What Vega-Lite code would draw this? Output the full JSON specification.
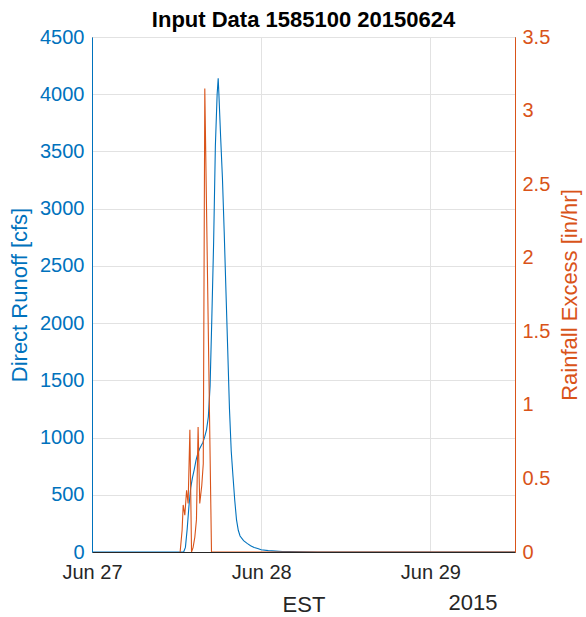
{
  "$schema": "https://vega.github.io/schema/vega-lite/v6.json",
  "width": 423,
  "height": 515,
  "autosize": {"type": "none"},
  "padding": {"left": 92, "top": 37, "right": 71, "bottom": 65},
  "background": "white",
  "title": {"text": "Input Data 1585100 20150624", "fontSize": 22, "font": "Liberation Sans", "fontWeight": "bold", "color": "#000000", "offset": -5, "anchor": "middle"},
  "config": {
    "view": {"stroke": "#262626", "strokeWidth": 1},
    "axis": {"labelFont": "Liberation Sans", "titleFont": "Liberation Sans", "labelFontSize": 20, "titleFontSize": 22, "titleFontWeight": "normal", "gridColor": "#e2e2e2", "gridWidth": 1, "ticks": false, "labelOverlap": false}
  },
  "datasets": {
    "runoff": [
      {"time": "2015-06-27T00:00:00", "runoff": 0},
      {"time": "2015-06-27T13:00:00", "runoff": 0},
      {"time": "2015-06-27T13:15:00", "runoff": 40},
      {"time": "2015-06-27T13:30:00", "runoff": 200},
      {"time": "2015-06-27T13:45:00", "runoff": 400},
      {"time": "2015-06-27T14:00:00", "runoff": 560},
      {"time": "2015-06-27T14:15:00", "runoff": 650},
      {"time": "2015-06-27T14:30:00", "runoff": 720},
      {"time": "2015-06-27T14:45:00", "runoff": 800},
      {"time": "2015-06-27T15:00:00", "runoff": 860},
      {"time": "2015-06-27T15:15:00", "runoff": 900},
      {"time": "2015-06-27T15:30:00", "runoff": 930},
      {"time": "2015-06-27T15:45:00", "runoff": 960},
      {"time": "2015-06-27T16:00:00", "runoff": 1010},
      {"time": "2015-06-27T16:15:00", "runoff": 1070},
      {"time": "2015-06-27T16:30:00", "runoff": 1180},
      {"time": "2015-06-27T16:45:00", "runoff": 1450},
      {"time": "2015-06-27T17:00:00", "runoff": 2050},
      {"time": "2015-06-27T17:15:00", "runoff": 2700},
      {"time": "2015-06-27T17:30:00", "runoff": 3550},
      {"time": "2015-06-27T17:45:00", "runoff": 4000},
      {"time": "2015-06-27T17:54:00", "runoff": 4140},
      {"time": "2015-06-27T18:00:00", "runoff": 4000},
      {"time": "2015-06-27T18:15:00", "runoff": 3620},
      {"time": "2015-06-27T18:30:00", "runoff": 3270},
      {"time": "2015-06-27T18:45:00", "runoff": 2800},
      {"time": "2015-06-27T19:00:00", "runoff": 2280},
      {"time": "2015-06-27T19:15:00", "runoff": 1770},
      {"time": "2015-06-27T19:30:00", "runoff": 1250},
      {"time": "2015-06-27T19:45:00", "runoff": 880},
      {"time": "2015-06-27T20:00:00", "runoff": 660},
      {"time": "2015-06-27T20:15:00", "runoff": 450},
      {"time": "2015-06-27T20:30:00", "runoff": 280},
      {"time": "2015-06-27T20:45:00", "runoff": 190},
      {"time": "2015-06-27T21:00:00", "runoff": 140},
      {"time": "2015-06-27T21:30:00", "runoff": 100},
      {"time": "2015-06-27T22:00:00", "runoff": 75},
      {"time": "2015-06-27T22:30:00", "runoff": 55},
      {"time": "2015-06-27T23:00:00", "runoff": 40},
      {"time": "2015-06-27T23:30:00", "runoff": 30},
      {"time": "2015-06-28T00:00:00", "runoff": 20},
      {"time": "2015-06-28T01:00:00", "runoff": 12},
      {"time": "2015-06-28T02:00:00", "runoff": 8},
      {"time": "2015-06-28T03:00:00", "runoff": 5},
      {"time": "2015-06-28T04:00:00", "runoff": 3},
      {"time": "2015-06-28T06:00:00", "runoff": 1},
      {"time": "2015-06-28T08:00:00", "runoff": 0},
      {"time": "2015-06-29T12:00:00", "runoff": 0}
    ],
    "rain": [
      {"time": "2015-06-27T12:30:00", "rain": 0},
      {"time": "2015-06-27T12:47:00", "rain": 0.15},
      {"time": "2015-06-27T12:56:00", "rain": 0.32},
      {"time": "2015-06-27T13:10:00", "rain": 0.25},
      {"time": "2015-06-27T13:25:00", "rain": 0.42},
      {"time": "2015-06-27T13:38:00", "rain": 0.33},
      {"time": "2015-06-27T13:53:00", "rain": 0.83},
      {"time": "2015-06-27T14:07:00", "rain": 0},
      {"time": "2015-06-27T14:20:00", "rain": 0.03},
      {"time": "2015-06-27T14:35:00", "rain": 0.1},
      {"time": "2015-06-27T14:49:00", "rain": 0.22},
      {"time": "2015-06-27T15:03:00", "rain": 0.85},
      {"time": "2015-06-27T15:17:00", "rain": 0.33},
      {"time": "2015-06-27T15:34:00", "rain": 0.45},
      {"time": "2015-06-27T15:47:00", "rain": 0.6},
      {"time": "2015-06-27T16:00:00", "rain": 3.15},
      {"time": "2015-06-27T16:57:00", "rain": 0},
      {"time": "2015-06-29T12:00:00", "rain": 0}
    ]
  },
  "layer": [
    {
      "data": {"name": "runoff"},
      "mark": {"type": "line", "color": "#0072BD", "strokeWidth": 1.1, "clip": true},
      "encoding": {
        "x": {
          "field": "time", "type": "temporal",
          "scale": {"domain": [{"year": 2015, "month": 6, "date": 27}, {"year": 2015, "month": 6, "date": 29, "hours": 12}]},
          "axis": {
            "orient": "bottom",
            "values": [{"year": 2015, "month": 6, "date": 27}, {"year": 2015, "month": 6, "date": 28}, {"year": 2015, "month": 6, "date": 29}],
            "format": "%b %d", "labelFlush": false,
            "labelColor": "#262626", "labelPadding": 10,
            "domainColor": "#262626", "grid": true,
            "title": "EST", "titleColor": "#262626", "titleY": 59, "titleBaseline": "alphabetic"
          }
        },
        "y": {
          "field": "runoff", "type": "quantitative",
          "scale": {"domain": [0, 4500]},
          "axis": {
            "orient": "left",
            "values": [0, 500, 1000, 1500, 2000, 2500, 3000, 3500, 4000, 4500],
            "format": "d", "labelColor": "#0072BD", "domainColor": "#0072BD",
            "labelPadding": 8, "grid": true,
            "title": "Direct Runoff [cfs]", "titleColor": "#0072BD", "titlePadding": 8
          }
        }
      }
    },
    {
      "data": {"name": "rain"},
      "mark": {"type": "line", "color": "#D95319", "strokeWidth": 1.1, "clip": true},
      "encoding": {
        "x": {
          "field": "time", "type": "temporal",
          "axis": {
            "orient": "bottom", "labels": false, "ticks": false, "domain": false, "grid": false,
            "title": "2015", "titleColor": "#262626", "titleX": 405, "titleAlign": "right",
            "titleY": 57, "titleBaseline": "alphabetic"
          }
        },
        "y": {
          "field": "rain", "type": "quantitative",
          "scale": {"domain": [0, 3.5]},
          "axis": {
            "orient": "right",
            "values": [0, 0.5, 1, 1.5, 2, 2.5, 3, 3.5],
            "labelExpr": "'' + datum.value",
            "labelColor": "#D95319", "domainColor": "#D95319",
            "labelPadding": 7, "grid": false,
            "title": "Rainfall Excess [in/hr]", "titleColor": "#D95319", "titlePadding": 10,
            "titleAngle": 270, "titleBaseline": "top"
          }
        }
      }
    }
  ],
  "resolve": {"scale": {"y": "independent"}, "axis": {"x": "independent"}}
}
